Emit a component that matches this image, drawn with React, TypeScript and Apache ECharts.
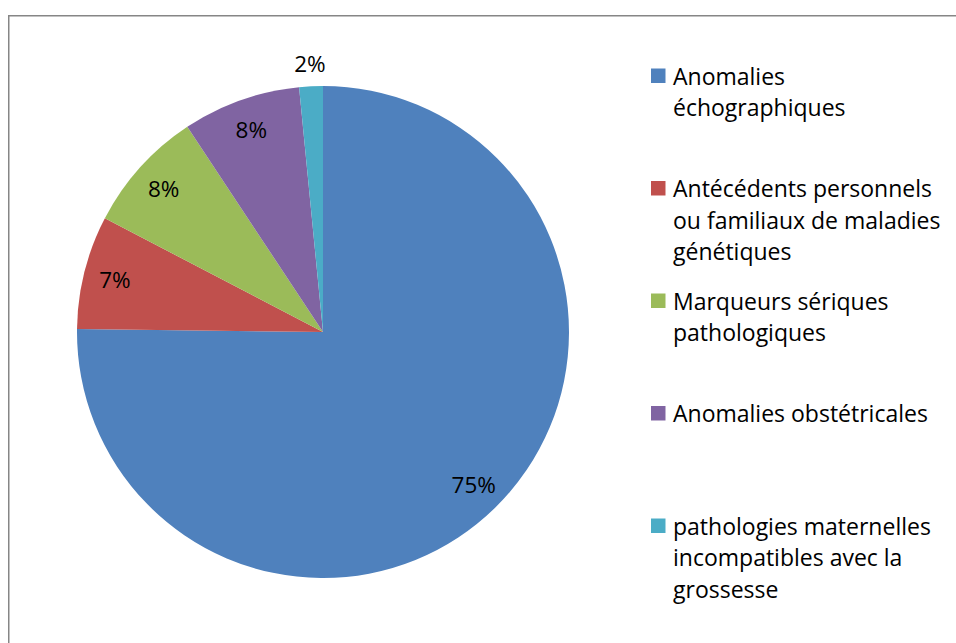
import React, { useEffect, useRef } from "react";
import * as echarts from "echarts";

const categories = [
  "Anomalies échographiques",
  "Antécédents personnels ou familiaux de maladies génétiques",
  "Marqueurs sériques pathologiques",
  "Anomalies obstétricales",
  "pathologies maternelles incompatibles avec la grossesse",
];
const legendLabels = [
  "Anomalies\néchographiques",
  "Antécédents personnels\nou familiaux de maladies\ngénétiques",
  "Marqueurs sériques\npathologiques",
  "Anomalies obstétricales",
  "pathologies maternelles\nincompatibles avec la\ngrossesse",
];
const values = [75.2, 7.45, 8.05, 7.75, 1.55];
const colors = ["#4F81BD", "#C0504D", "#9BBB59", "#8064A2", "#4BACC6"];
// labels drawn at a farther radius (outside the pie)
const outsideLabel = [false, false, false, false, true];

const FONT = "'Open Sans', Lato, sans-serif";
const FS_LEGEND = 23;
const FS_LABEL = 22.5;

export default function App() {
  const ref = useRef<HTMLDivElement>(null);
  useEffect(() => {
    if (!ref.current) return;
    const chart = echarts.init(ref.current, undefined, { renderer: "svg" });
    const cx = 323;
    const cy = 332;
    const R = 246;
    const fmt = (p: any) => Math.round(p.value) + "%";
    const labelStyle = {
      color: "#000",
      fontSize: FS_LABEL,
      fontFamily: FONT,
      formatter: fmt,
      position: "inside" as const,
    };
    const legendGraphics: any[] = [];
    const legendTop = 75.7;
    const legendStep = 112.5;
    legendLabels.forEach((t, i) => {
      const yc = legendTop + i * legendStep;
      legendGraphics.push({
        type: "rect",
        shape: { x: 651, y: yc - 7.2, width: 14.5, height: 14.5 },
        style: { fill: colors[i] },
        silent: true,
      });
      legendGraphics.push({
        type: "text",
        x: 673,
        y: yc - 15.75,
        style: {
          text: t,
          fill: "#000",
          fontSize: FS_LEGEND,
          fontFamily: FONT,
          lineHeight: 31.5,
          verticalAlign: "top",
          align: "left",
        },
        silent: true,
      });
    });
    chart.setOption({
      animation: false,
      backgroundColor: "#fff",
      graphic: [
        {
          type: "polyline",
          shape: { points: [[8.75, 700], [8.75, 15.75], [1000, 15.75]] },
          style: { stroke: "#868686", lineWidth: 1.5, fill: "none" },
          silent: true,
        },
        ...legendGraphics,
      ],
      series: [
        {
          type: "pie",
          center: [cx, cy],
          radius: [0, R],
          startAngle: 90,
          clockwise: true,
          avoidLabelOverlap: false,
          label: { show: false },
          labelLine: { show: false },
          itemStyle: { borderWidth: 0 },
          emphasis: { disabled: true },
          data: categories.map((name, i) => ({
            name,
            value: values[i],
            itemStyle: { color: colors[i] },
          })),
          z: 1,
        },
        {
          type: "pie",
          center: [cx, cy],
          radius: [0, R * 1.72],
          startAngle: 90,
          clockwise: true,
          silent: true,
          avoidLabelOverlap: false,
          labelLine: { show: false },
          label: labelStyle,
          itemStyle: { color: "rgba(0,0,0,0)", borderWidth: 0 },
          emphasis: { disabled: true },
          data: categories.map((name, i) => ({
            name,
            value: values[i],
            label: { show: !outsideLabel[i] },
          })),
          z: 2,
        },
        {
          type: "pie",
          center: [cx, cy],
          radius: [0, R * 2.162],
          startAngle: 90,
          clockwise: true,
          silent: true,
          avoidLabelOverlap: false,
          labelLine: { show: false },
          label: labelStyle,
          itemStyle: { color: "rgba(0,0,0,0)", borderWidth: 0 },
          emphasis: { disabled: true },
          data: categories.map((name, i) => ({
            name,
            value: values[i],
            label: { show: outsideLabel[i] },
          })),
          z: 2,
        },
      ],
    });
    return () => chart.dispose();
  }, []);
  return (
    <div
      ref={ref}
      style={{ position: "absolute", left: 0, top: 0, width: 956, height: 643 }}
    />
  );
}
